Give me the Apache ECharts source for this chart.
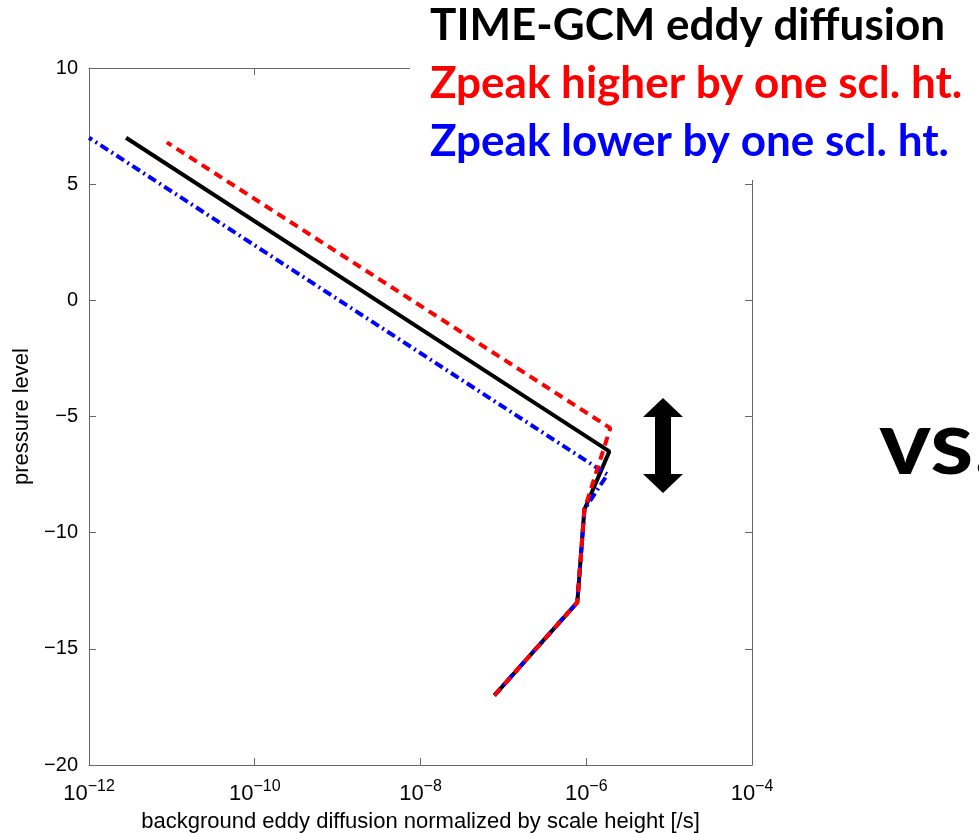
<!DOCTYPE html>
<html>
<head>
<meta charset="utf-8">
<script src="https://cdn.jsdelivr.net/npm/echarts@6/dist/echarts.min.js"></script>
<style>
  html, body { margin: 0; padding: 0; background: #fff; }
  #chart { width: 979px; height: 833px; }
</style>
</head>
<body>
<div id="chart"></div>
<script>
// pressure levels and diffusion values
const levelsBase = [-17, -13, -9, -6.5, 7];
const diffBase = [7.8e-8, 7.8e-7, 9.5e-7, 1.9e-6, 2.8e-12];

const levelsHigh = [-17, -13, -9, -5.5, 6.8];
const diffHigh = [7.8e-8, 7.8e-7, 9.5e-7, 1.95e-6, 8.7e-12];

const levelsLow = [-17, -13, -9, -7.5, 7];
const diffLow = [7.8e-8, 7.8e-7, 9.5e-7, 1.8e-6, 1.0e-12];

const legendLines = [
  { text: 'TIME-GCM eddy diffusion', color: '#000000' },
  { text: 'Zpeak higher by one scl. ht.', color: '#ff0000' },
  { text: 'Zpeak lower by one scl. ht.', color: '#0000ff' }
];

function pairs(xs, ys) {
  return xs.map((x, i) => [x, ys[i]]);
}

const chart = echarts.init(document.getElementById('chart'));

const axisColor = '#666';
const font = '"Liberation Sans", Arial, sans-serif';

const expLabel = function (v) {
  const e = Math.round(Math.log10(v));
  return '{b|10}{s|' + String(e).replace('-', '\u2212') + '}';
};

chart.setOption({
  backgroundColor: '#fff',
  animation: false,
  grid: { left: 89, right: 227, top: 68, bottom: 68, containLabel: false, outerBoundsMode: 'none' },
  xAxis: [{
    type: 'log',
    logBase: 10,
    min: 1e-12,
    max: 1e-4,
    interval: 2,
    name: 'background eddy diffusion normalized by scale height [/s]',
    nameLocation: 'middle',
    nameGap: 46,
    nameTextStyle: { fontFamily: font, fontSize: 22, color: '#000' },
    axisLine: { onZero: false, lineStyle: { color: axisColor, width: 1 } },
    axisTick: { inside: true, length: 7, lineStyle: { color: axisColor } },
    minorTick: { show: false },
    splitLine: { show: false },
    axisLabel: {
      margin: 14,
      formatter: expLabel,
      rich: {
        b: { fontFamily: font, fontSize: 22, color: '#000' },
        s: { fontFamily: font, fontSize: 16, color: '#000', padding: [0, 0, 14, 0] }
      }
    }
  }, {
    type: 'log',
    logBase: 10,
    min: 1e-12,
    max: 1e-4,
    interval: 2,
    position: 'top',
    axisLine: { onZero: false, lineStyle: { color: axisColor, width: 1 } },
    axisTick: { inside: true, length: 7, lineStyle: { color: axisColor } },
    axisLabel: { show: false },
    splitLine: { show: false }
  }],
  yAxis: [{
    type: 'value',
    min: -20,
    max: 10,
    interval: 5,
    name: 'pressure level',
    nameLocation: 'middle',
    nameGap: 56,
    nameTextStyle: { fontFamily: font, fontSize: 22, color: '#000' },
    axisLine: { show: true, onZero: false, lineStyle: { color: axisColor, width: 1 } },
    axisTick: { show: true, inside: true, length: 7, lineStyle: { color: axisColor } },
    splitLine: { show: false },
    axisLabel: {
      margin: 11,
      fontFamily: font,
      fontSize: 20,
      color: '#000',
      formatter: v => String(v).replace('-', '\u2212')
    }
  }, {
    type: 'value',
    min: -20,
    max: 10,
    interval: 5,
    position: 'right',
    axisLine: { show: true, onZero: false, lineStyle: { color: axisColor, width: 1 } },
    axisTick: { show: true, inside: true, length: 7, lineStyle: { color: axisColor } },
    axisLabel: { show: false },
    splitLine: { show: false }
  }],
  series: [
    {
      name: 'TIME-GCM eddy diffusion',
      type: 'line',
      data: pairs(diffBase, levelsBase),
      showSymbol: false,
      lineStyle: { color: '#000', width: 4, type: 'solid' },
      z: 2
    },
    {
      name: 'Zpeak lower by one scl. ht.',
      type: 'line',
      data: pairs(diffLow, levelsLow),
      showSymbol: false,
      lineStyle: { color: '#0000ff', width: 4, type: [9, 4, 2, 4] },
      z: 3
    },
    {
      name: 'Zpeak higher by one scl. ht.',
      type: 'line',
      data: pairs(diffHigh, levelsHigh),
      showSymbol: false,
      lineStyle: { color: '#ff0000', width: 4, type: [9, 6] },
      z: 4
    }
  ],
  graphic: [
    {
      type: 'rect',
      shape: { x: 410, y: 0, width: 569, height: 180 },
      style: { fill: '#fff' },
      z: 100
    },
    ...legendLines.map((l, i) => ({
      type: 'text',
      left: 430,
      top: 4 + i * 58,
      z: 101,
      style: {
        text: l.text,
        fill: l.color,
        font: 'bold 44px Lato, "Open Sans", sans-serif'
      }
    })),
    {
      type: 'polygon',
      shape: {
        points: [[663, 398], [683, 417], [671, 417], [671, 474], [683, 474],
                 [663, 493], [643, 474], [655, 474], [655, 417], [643, 417]]
      },
      style: { fill: '#000' },
      z: 101
    },
    {
      type: 'text',
      x: 879,
      y: 400,
      scaleX: 1.1,
      z: 101,
      style: {
        text: 'vs.',
        fill: '#000',
        font: 'bold 90px Lato, "Open Sans", sans-serif'
      }
    }
  ]
});
</script>
</body>
</html>
